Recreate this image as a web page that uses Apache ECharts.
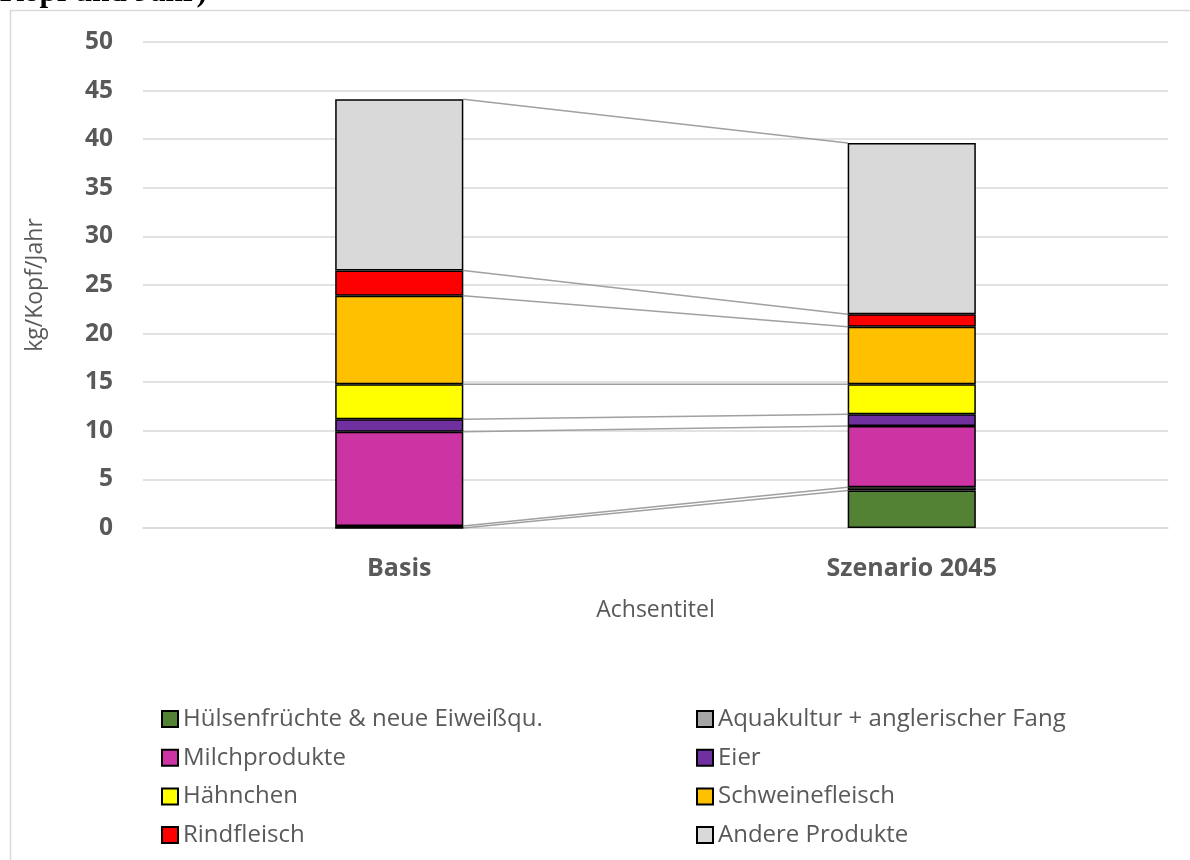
<!DOCTYPE html>
<html><head><meta charset="utf-8">
<script src="https://cdn.jsdelivr.net/npm/echarts@6/dist/echarts.min.js"></script>
<style>html,body{margin:0;padding:0;background:#fff}#c{width:1190px;height:860px}</style>
</head><body><div id="c"></div>
<script>
const categories = ['Basis', 'Szenario 2045'];
const seriesNames = ['Hülsenfrüchte & neue Eiweißqu.', 'Aquakultur + anglerischer Fang', 'Milchprodukte', 'Eier', 'Hähnchen', 'Schweinefleisch', 'Rindfleisch', 'Andere Produkte'];
const huelsen = [0, 3.85];
const aqua = [0.2, 0.35];
const milch = [9.7, 6.3];
const eier = [1.3, 1.2];
const haehnchen = [3.6, 3.1];
const schwein = [9.1, 5.9];
const rind = [2.6, 1.3];
const andere = [17.6, 17.6];
const colors = ['#548235', '#A5A5A5', '#CC33A3', '#7030A0', '#FFFF00', '#FFC000', '#FF0000', '#D9D9D9'];
const values = [huelsen, aqua, milch, eier, haehnchen, schwein, rind, andere];

// cumulative tops for series lines
const connectors = [];
let c0 = 0, c1 = 0;
values.forEach(v => { c0 += v[0]; c1 += v[1]; connectors.push([0, +c0.toFixed(3), +c1.toFixed(3)]); });

const FONT = 'Open Sans';
const chart = echarts.init(document.getElementById('c'));
const barSeries = values.map((v, i) => ({
  name: seriesNames[i], type: 'bar', stack: 'total', data: v, barWidth: '25%',
  itemStyle: { color: colors[i], borderColor: '#000', borderWidth: 1.5 },
  emphasis: { disabled: true }
}));
const legendText = { fontFamily: FONT, fontSize: 24, color: '#595959', lineHeight: 24 };
chart.setOption({
  animation: false,
  textStyle: { fontFamily: FONT },
  graphic: [
    { type: 'rect', shape: { x: 10.5, y: 10.5, width: 1300, height: 1000 }, style: { fill: 'none', stroke: '#d9d9d9', lineWidth: 1.5 }, silent: true },
    { type: 'text', left: 0, top: -23, style: { text: 'Kopf und Jahr)', font: 'bold 31px "Liberation Serif"', fill: '#000' }, silent: true }
  ],
  grid: { left: 143, right: 22, top: 42, bottom: 332 },
  legend: [
    { orient: 'vertical', left: 156, top: 702, itemWidth: 16, itemHeight: 16, itemGap: 14.7, icon: 'rect',
      data: [seriesNames[0], seriesNames[2], seriesNames[4], seriesNames[6]], textStyle: legendText, selectedMode: false },
    { orient: 'vertical', left: 691, top: 702, itemWidth: 16, itemHeight: 16, itemGap: 14.7, icon: 'rect',
      data: [seriesNames[1], seriesNames[3], seriesNames[5], seriesNames[7]], textStyle: legendText, selectedMode: false }
  ],
  xAxis: {
    type: 'category', data: categories,
    axisLine: { lineStyle: { color: '#d9d9d9', width: 1.5 } }, axisTick: { show: false },
    axisLabel: { fontFamily: FONT, fontSize: 25, fontWeight: 'bold', color: '#595959', margin: 28 },
    name: 'Achsentitel', nameLocation: 'middle', nameGap: 71,
    nameTextStyle: { fontFamily: FONT, fontSize: 23, color: '#595959' }
  },
  yAxis: {
    type: 'value', min: 0, max: 50, interval: 5,
    axisLine: { show: false }, axisTick: { show: false },
    splitLine: { lineStyle: { color: '#d9d9d9', width: 1.5 } },
    axisLabel: { fontFamily: FONT, fontSize: 24.5, fontWeight: 'bold', color: '#595959', margin: 30 },
    name: 'kg/Kopf/Jahr', nameLocation: 'middle', nameGap: 96,
    nameTextStyle: { fontFamily: FONT, fontSize: 23, color: '#595959' }
  },
  series: barSeries.concat([{
    type: 'custom', name: 'serieslines', silent: true, z: 1,
    encode: { x: 0, y: [1, 2] },
    data: connectors,
    renderItem: function (params, api) {
      const band = api.size([1, 0])[0];
      const hw = band * 0.125;
      const p0 = api.coord([0, api.value(1)]);
      const p1 = api.coord([1, api.value(2)]);
      return { type: 'line', shape: { x1: p0[0] + hw, y1: p0[1], x2: p1[0] - hw, y2: p1[1] },
        style: { stroke: '#a0a0a0', lineWidth: 1.5 } };
    }
  }])
});
</script></body></html>
